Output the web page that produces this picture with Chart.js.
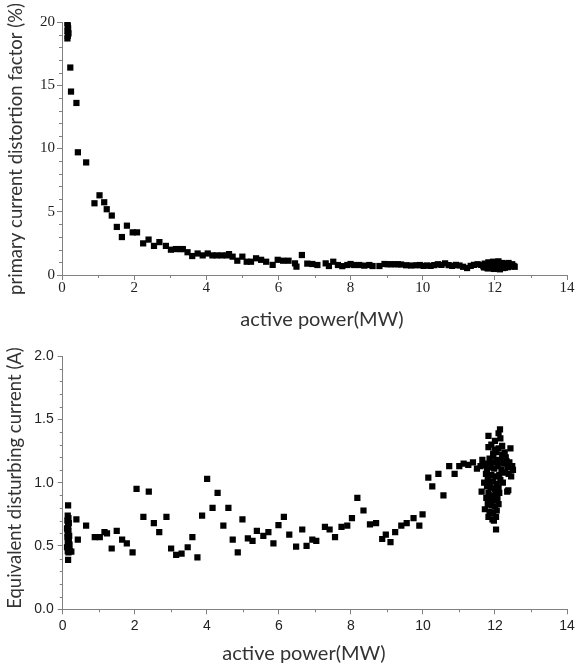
<!DOCTYPE html>
<html>
<head>
<meta charset="utf-8">
<script src="https://cdn.jsdelivr.net/npm/chart.js@4.4.1/dist/chart.umd.min.js"></script>
<style>
  html, body { margin: 0; padding: 0; background: #fff; }
  #wrap { position: relative; width: 582px; height: 668px; }
  .box { position: absolute; left: 0; width: 582px; }
</style>
</head>
<body>
<div id="wrap">
  <div class="box" style="top:0;height:330px"><canvas id="c1" width="582" height="330"></canvas></div>
  <div class="box" style="top:330px;height:338px"><canvas id="c2" width="582" height="338"></canvas></div>
</div>
<script>
// ---------- DATA ----------
const xTickLabels = [0, 2, 4, 6, 8, 10, 12, 14];
const topYTickLabels = [0, 5, 10, 15, 20];
const bottomYTickLabels = ["0.0", "0.5", "1.0", "1.5", "2.0"];

// top panel: primary current distortion factor (%) vs active power (MW)
const topX = [
  0.15, 0.16, 0.17, 0.15, 0.18, 0.16, 0.15,
  0.23, 0.25, 0.40, 0.44, 0.67, 0.90, 1.04, 1.17, 1.24, 1.38, 1.52, 1.66, 1.80, 1.96, 2.08,
  2.25, 2.40, 2.55, 2.70, 2.88, 3.02, 3.16, 3.28, 3.35, 3.48, 3.61, 3.76, 3.90, 4.04,
  4.17, 4.29, 4.43, 4.57, 4.63, 4.73, 4.86, 5.00, 5.12, 5.24, 5.38, 5.52, 5.66, 5.84,
  5.98, 6.13, 6.28, 6.46, 6.50, 6.65, 6.80, 6.94, 7.08, 7.31, 7.40, 7.52, 7.65, 7.77,
  7.91, 8.00, 8.10, 8.24, 8.38, 8.52, 8.61, 8.80, 8.94, 9.03, 9.12, 9.22, 9.31, 9.40,
  9.54, 9.68, 9.83, 9.92, 10.02, 10.12, 10.22, 10.32, 10.42, 10.52, 10.62, 10.72, 10.82,
  10.92, 11.02, 11.12, 11.23, 11.33, 11.42, 11.52,
  11.62, 11.68, 11.72, 11.75, 11.78, 11.82, 11.85, 11.88, 11.90, 11.93, 11.95, 11.97,
  12.00, 12.02, 12.04, 12.06, 12.08, 12.10, 12.12, 12.15, 12.18, 12.20, 12.23, 12.26,
  12.30, 12.33, 12.36, 12.40, 12.44, 12.48, 12.52, 12.55, 11.70, 11.80, 11.92, 12.05,
  12.14, 12.28, 12.38, 11.98
];
const topY = [
  19.9, 19.7, 19.5, 19.3, 19.1, 18.9, 18.7,
  16.4, 14.5, 13.6, 9.7, 8.9, 5.67, 6.3, 5.75, 5.2, 4.7, 3.8, 3.0, 3.9, 3.37, 3.37,
  2.5, 2.8, 2.3, 2.6, 2.3, 2.0, 2.05, 2.05, 2.05, 1.8, 1.5, 1.7, 1.55, 1.7,
  1.55, 1.55, 1.55, 1.55, 1.65, 1.45, 1.13, 1.45, 1.05, 1.05, 1.32, 1.2, 1.05, 0.8,
  1.2, 1.13, 1.13, 0.92, 0.66, 1.58, 0.9, 0.87, 0.79, 0.92, 0.71, 1.05, 0.79, 0.7,
  0.79, 0.87, 0.79, 0.79, 0.74, 0.79, 0.71, 0.71, 0.87, 0.85, 0.85, 0.85, 0.85, 0.83,
  0.77, 0.75, 0.77, 0.79, 0.72, 0.75, 0.72, 0.78, 0.85, 0.8, 0.92, 0.78, 0.72,
  0.8, 0.75, 0.65, 0.55, 0.72, 0.8, 0.85,
  0.80, 0.70, 0.90, 0.62, 0.80, 1.00, 0.55, 0.75, 0.92, 0.62, 1.05, 0.48,
  0.80, 0.65, 0.95, 0.50, 0.72, 1.08, 0.58, 0.85, 0.68, 0.95, 0.55, 0.80,
  0.70, 0.90, 0.62, 0.78, 0.68, 0.85, 0.72, 0.65, 0.60, 0.52, 0.85, 1.02,
  0.45, 0.58, 0.95, 0.68
];

// bottom panel: equivalent disturbing current (A) vs active power (MW)
const bottomX = [
  0.15, 0.15, 0.14, 0.16, 0.13, 0.17, 0.15, 0.12, 0.16, 0.14, 0.18, 0.13, 0.15, 0.17,
  0.14, 0.16, 0.12, 0.15, 0.18, 0.14, 0.16, 0.20, 0.13, 0.19,
  0.24, 0.38, 0.42, 0.65, 0.89, 1.03, 1.16, 1.23, 1.36, 1.50, 1.65, 1.78, 1.94, 2.05,
  2.24, 2.39, 2.53, 2.68, 2.88, 3.01, 3.15, 3.30, 3.47, 3.60, 3.74, 3.87, 4.01, 4.16,
  4.30, 4.46, 4.60, 4.72, 4.86, 4.99, 5.14, 5.27, 5.39, 5.57, 5.71, 5.85, 5.99, 6.14,
  6.29, 6.48, 6.65, 6.77, 6.93, 7.04, 7.28, 7.41, 7.56, 7.74, 7.90, 8.03, 8.18, 8.35,
  8.53, 8.70, 8.87, 8.97, 9.10, 9.23, 9.40, 9.55, 9.74, 9.90, 9.99, 10.15, 10.26, 10.43,
  10.57, 10.73, 10.88, 11.01, 11.13, 11.26, 11.39, 11.50, 11.60, 11.65,
  12.14, 12.10, 11.82, 12.00, 11.82, 12.20, 12.43, 12.04, 12.20, 11.95, 11.85, 12.30,
  12.40, 12.48, 12.50, 12.45, 12.35, 12.25, 12.15, 12.05, 11.92, 11.80, 11.72, 11.78,
  11.88, 11.98, 12.08, 12.18, 12.28, 12.38, 12.12, 12.02, 11.90, 11.80, 11.85, 11.95,
  12.05, 12.15, 12.22, 12.10, 12.00, 11.88, 11.78, 11.63, 11.82, 11.92, 12.02, 12.12,
  12.34, 12.07, 11.97, 11.86, 11.76, 11.80, 11.90, 12.00, 12.10, 11.72, 11.85, 11.95,
  12.05, 11.82, 12.03, 11.93, 12.03, 11.97, 12.37, 11.70, 11.75, 12.00, 11.90, 12.10,
  12.15, 11.95, 12.27, 12.32
];
const bottomY = [
  0.82, 0.39, 0.74, 0.72, 0.70, 0.68, 0.66, 0.64, 0.62, 0.60, 0.58, 0.57, 0.55, 0.53,
  0.52, 0.50, 0.49, 0.48, 0.47, 0.46, 0.45, 0.46, 0.63, 0.51,
  0.455, 0.71, 0.55, 0.66, 0.57, 0.57, 0.61, 0.60, 0.48, 0.62, 0.55, 0.52, 0.45, 0.95,
  0.73, 0.93, 0.68, 0.61, 0.73, 0.48, 0.43, 0.44, 0.49, 0.57, 0.41, 0.74, 1.03, 0.80,
  0.92, 0.66, 0.80, 0.55, 0.45, 0.71, 0.56, 0.54, 0.62, 0.58, 0.61, 0.52, 0.665, 0.73,
  0.59, 0.495, 0.63, 0.50, 0.55, 0.54, 0.65, 0.63, 0.57, 0.65, 0.66, 0.72, 0.88, 0.78,
  0.67, 0.68, 0.555, 0.59, 0.53, 0.61, 0.66, 0.68, 0.72, 0.66, 0.75, 1.04, 0.97, 1.07,
  0.90, 1.13, 1.07, 1.13, 1.15, 1.14, 1.16, 1.11, 1.13, 1.18,
  1.42, 1.39, 1.37, 1.33, 1.28, 1.29, 1.27, 1.24, 1.22, 1.21, 1.19, 1.20,
  1.16, 1.13, 1.10, 1.05, 1.12, 1.15, 1.17, 1.18, 1.16, 1.15, 1.14, 1.10,
  1.12, 1.11, 1.13, 1.10, 1.08, 1.07, 1.06, 1.05, 1.06, 1.04, 1.00, 1.01,
  0.99, 1.02, 1.00, 0.96, 0.95, 0.96, 0.97, 0.93, 0.92, 0.90, 0.91, 0.92,
  0.93, 0.87, 0.86, 0.87, 0.88, 0.83, 0.82, 0.81, 0.83, 0.79, 0.77, 0.76,
  0.78, 0.73, 0.73, 0.71, 0.63, 0.70, 0.94, 1.00, 1.07, 1.26, 1.30, 1.27,
  1.35, 1.23, 1.24, 1.17
];

// ---------- HELPERS ----------
function toPoints(xs, ys) { return xs.map((x, i) => ({ x: x, y: ys[i] })); }

const AXIS_COLOR = '#808080';

// draws short minor ticks using the scale's own pixel mapping
const minorTicks = {
  id: 'minorTicks',
  afterDraw(chart) {
    const ctx = chart.ctx;
    ctx.save();
    ctx.strokeStyle = AXIS_COLOR;
    ctx.lineWidth = 1;
    Object.values(chart.scales).forEach(s => {
      const step = s.options.minorStep;
      const major = s.options.ticks.stepSize;
      if (!step) return;
      const n = Math.round((s.max - s.min) / step);
      for (let i = 0; i <= n; i++) {
        const v = s.min + i * step;
        const r = v / major;
        if (Math.abs(r - Math.round(r)) < 1e-6) continue;
        const p = Math.round(s.getPixelForValue(v)) + 0.5;
        ctx.beginPath();
        if (s.isHorizontal()) {
          ctx.moveTo(p, s.top); ctx.lineTo(p, s.top + 3);
        } else {
          ctx.moveTo(s.right, p); ctx.lineTo(s.right - 3, p);
        }
        ctx.stroke();
      }
    });
    ctx.restore();
  }
};

// axis titles, placed relative to the canvas
const axisTitles = {
  id: 'axisTitles',
  afterDraw(chart, args, opts) {
    const ctx = chart.ctx;
    ctx.save();
    ctx.fillStyle = '#333';
    ctx.textAlign = 'center';
    ctx.textBaseline = 'middle';
    ctx.font = opts.xFont;
    ctx.fillText(opts.xText, opts.xPos[0], opts.xPos[1]);
    ctx.translate(opts.yPos[0], opts.yPos[1]);
    ctx.rotate(-Math.PI / 2);
    ctx.font = opts.yFont;
    ctx.fillText(opts.yText, 0, 0);
    ctx.restore();
  }
};

function makeChart(canvasId, cfg) {
  const xLabelSet = xTickLabels.map(String);
  return new Chart(document.getElementById(canvasId), {
    type: 'scatter',
    data: {
      datasets: [{
        data: toPoints(cfg.xs, cfg.ys),
        pointStyle: 'rect',
        radius: 4.4,
        hoverRadius: 4.4,
        backgroundColor: '#000',
        borderWidth: 0
      }]
    },
    plugins: [minorTicks, axisTitles],
    options: {
      responsive: false,
      animation: false,
      devicePixelRatio: 1,
      layout: { padding: { left: 0, right: 15, top: cfg.padTop, bottom: 0 } },
      plugins: {
        legend: { display: false },
        tooltip: { enabled: false },
        axisTitles: {
          xText: 'active power(MW)', xFont: '20px Lato', xPos: cfg.xTitlePos,
          yText: cfg.yTitle, yFont: '18.5px Lato', yPos: cfg.yTitlePos
        }
      },
      scales: {
        x: {
          type: 'linear', min: 0, max: 14,
          minorStep: 1,
          afterFit: s => { s.height = cfg.xHeight; },
          ticks: {
            stepSize: 2, padding: cfg.xTickPad,
            color: '#222', font: cfg.tickFont,
            callback: (v) => xLabelSet.includes(String(v)) ? String(v) : ''
          },
          grid: { display: true, drawOnChartArea: false, drawTicks: true, tickLength: 5, tickColor: AXIS_COLOR },
          border: { display: true, color: AXIS_COLOR, width: 1 },
          title: { display: false }
        },
        y: {
          type: 'linear', min: cfg.yMin, max: cfg.yMax,
          minorStep: cfg.yMinor,
          afterFit: s => { s.width = cfg.yWidth; },
          ticks: {
            stepSize: cfg.yStep, padding: cfg.yTickPad,
            color: '#222', font: cfg.tickFont,
            callback: (v, i) => cfg.yLabels[i]
          },
          grid: { display: true, drawOnChartArea: false, drawTicks: true, tickLength: 5, tickColor: AXIS_COLOR },
          border: { display: true, color: AXIS_COLOR, width: 1 },
          title: { display: false }
        }
      }
    }
  });
}

makeChart('c1', {
  xs: topX, ys: topY,
  padTop: 22, xHeight: 55, yWidth: 62,
  xTickPad: -1, yTickPad: 2,
  xTitlePos: [322, 320], yTitlePos: [16, 149],
  yMin: 0, yMax: 20, yStep: 5, yMinor: 1,
  yLabels: topYTickLabels.map(String),
  tickFont: { family: 'Liberation Serif', size: 15 },
  yTitle: 'primary current distortion factor (%)'
});

makeChart('c2', {
  xs: bottomX, ys: bottomY,
  padTop: 26, xHeight: 58.7, yWidth: 62.7,
  xTickPad: 3, yTickPad: 4,
  xTitlePos: [304, 324], yTitlePos: [15, 148],
  yMin: 0, yMax: 2, yStep: 0.5, yMinor: 0.1,
  yLabels: bottomYTickLabels,
  tickFont: { family: 'Liberation Sans', size: 14 },
  yTitle: 'Equivalent disturbing current (A)'
});
</script>
</body>
</html>
